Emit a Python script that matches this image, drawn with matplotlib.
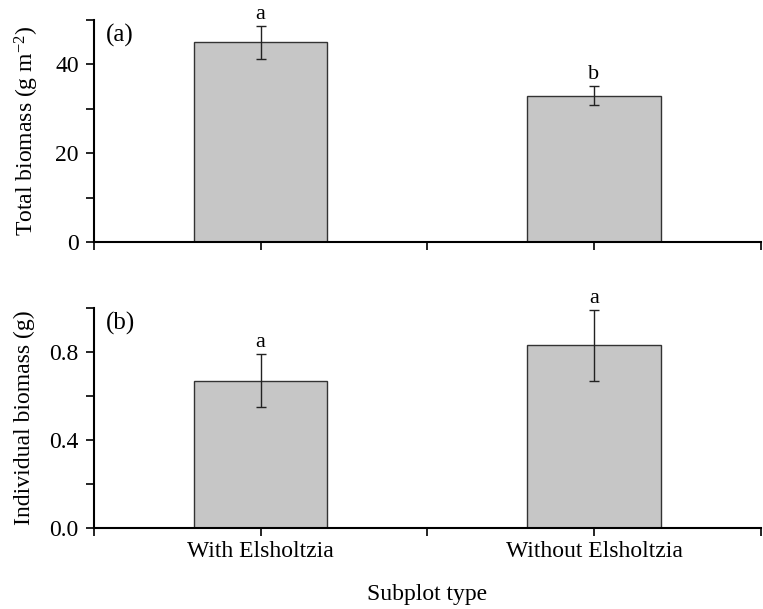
import matplotlib.pyplot as plt
from matplotlib.ticker import MultipleLocator

# data
categories = ['With Elsholtzia', 'Without Elsholtzia']
total_mean = [45.0, 33.0]
total_err = [3.7, 2.2]
total_letters = ['a', 'b']
indiv_mean = [0.67, 0.83]
indiv_err = [0.12, 0.16]
indiv_letters = ['a', 'a']

plt.rcParams['font.family'] = ['Liberation Serif', 'DejaVu Serif']
plt.rcParams['font.size'] = 17
plt.rcParams['mathtext.fontset'] = 'custom'
plt.rcParams['mathtext.rm'] = 'Liberation Serif'
plt.rcParams['mathtext.it'] = 'Liberation Serif:italic'
plt.rcParams['mathtext.default'] = 'rm'

fig = plt.figure(figsize=(7.63, 6.09), dpi=100)
ax1 = fig.add_axes([0.1232, 0.6026, 0.8738, 0.3645])
ax2 = fig.add_axes([0.1232, 0.133, 0.8738, 0.3612])

x = [1, 2]


def drawPanel(ax, means, errs, letters, ylim, major, minor, ylabel, tag, fmt, offset):
    ax.bar(x, means, width=0.4, color='#c6c6c6', edgecolor='#333333', linewidth=1.0, zorder=2)
    ax.errorbar(x, means, yerr=errs, fmt='none', ecolor='#222222', elinewidth=1.0,
                capsize=3.3, capthick=1.0, zorder=3)
    for xi, m, e, s in zip(x, means, errs, letters):
        ax.text(xi, m + e + offset, s, ha='center', va='bottom', fontsize=16)
    ax.set_xlim(0.5, 2.5)
    ax.set_ylim(*ylim)
    ax.yaxis.set_major_locator(MultipleLocator(major))
    ax.yaxis.set_minor_locator(MultipleLocator(minor))
    ax.yaxis.set_major_formatter(plt.FuncFormatter(lambda v, p: fmt.format(v)))
    ax.set_xticks([0.5, 1, 1.5, 2, 2.5])
    ax.spines['top'].set_visible(False)
    ax.spines['right'].set_visible(False)
    ax.spines['left'].set_linewidth(1.5)
    ax.spines['bottom'].set_linewidth(1.5)
    ax.tick_params(axis='both', which='major', direction='out', length=6, width=1.2)
    ax.tick_params(axis='y', which='major', pad=5)
    ax.tick_params(axis='y', which='minor', direction='out', length=6, width=1.2)
    ax.set_ylabel(ylabel, labelpad=10)
    ax.text(0.018, 0.93, tag, transform=ax.transAxes, ha='left', va='center', fontsize=18)


drawPanel(ax1, total_mean, total_err, total_letters, (0, 50), 20, 10,
          'Total biomass (g m$^{-2}$)', '(a)', '{:.0f}', 0.4)
ax1.set_xticklabels([])

drawPanel(ax2, indiv_mean, indiv_err, indiv_letters, (0, 1.0), 0.4, 0.2,
          'Individual biomass (g)', '(b)', '{:.1f}', 0.008)
ax2.set_xticklabels(['', categories[0], '', categories[1], ''])
ax2.set_xlabel('Subplot type', labelpad=16)

fig.savefig('out.png', dpi=100)
